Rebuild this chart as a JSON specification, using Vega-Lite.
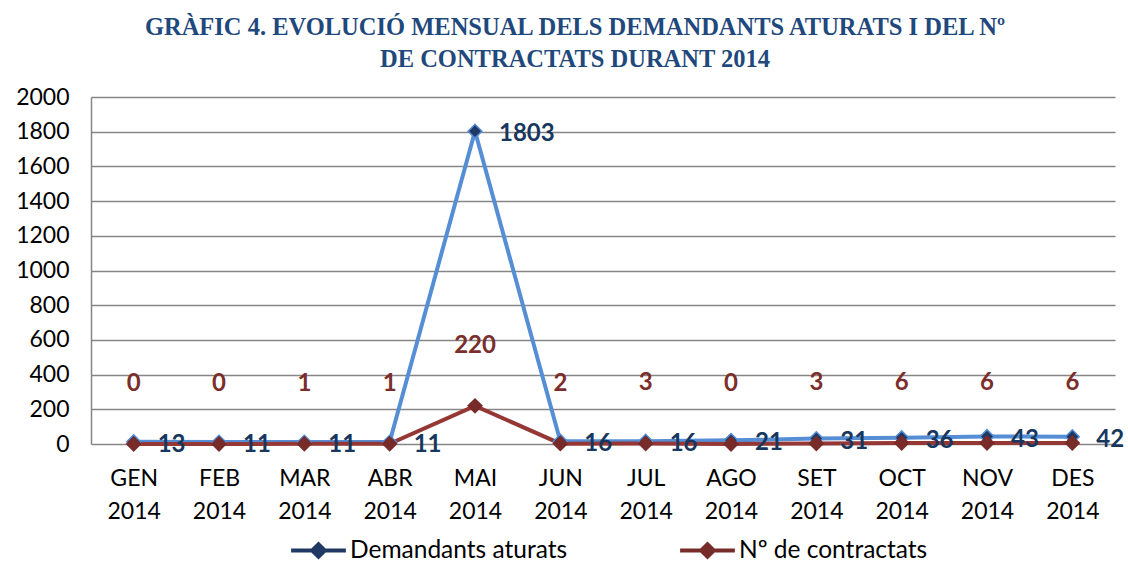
{
  "$schema": "https://vega.github.io/schema/vega-lite/v6.json",
  "width": 1024,
  "height": 347,
  "autosize": {"type": "none"},
  "padding": {"left": 91, "top": 97, "right": 13, "bottom": 118},
  "background": "white",
  "title": {
    "text": ["GRÀFIC 4. EVOLUCIÓ MENSUAL DELS DEMANDANTS ATURATS I DEL Nº", "DE CONTRACTATS DURANT 2014"],
    "font": "Liberation Serif",
    "fontSize": 24.5,
    "fontWeight": "bold",
    "color": "#1F497D",
    "lineHeight": 32,
    "anchor": "middle",
    "dx": -28,
    "offset": 14
  },
  "data": {
    "values": [
      {"mes": "GEN 2014", "serie": "Demandants aturats", "valor": 13},
      {"mes": "FEB 2014", "serie": "Demandants aturats", "valor": 11},
      {"mes": "MAR 2014", "serie": "Demandants aturats", "valor": 11},
      {"mes": "ABR 2014", "serie": "Demandants aturats", "valor": 11},
      {"mes": "MAI 2014", "serie": "Demandants aturats", "valor": 1803},
      {"mes": "JUN 2014", "serie": "Demandants aturats", "valor": 16},
      {"mes": "JUL 2014", "serie": "Demandants aturats", "valor": 16},
      {"mes": "AGO 2014", "serie": "Demandants aturats", "valor": 21},
      {"mes": "SET 2014", "serie": "Demandants aturats", "valor": 31},
      {"mes": "OCT 2014", "serie": "Demandants aturats", "valor": 36},
      {"mes": "NOV 2014", "serie": "Demandants aturats", "valor": 43},
      {"mes": "DES 2014", "serie": "Demandants aturats", "valor": 42},
      {"mes": "GEN 2014", "serie": "Nº de contractats", "valor": 0},
      {"mes": "FEB 2014", "serie": "Nº de contractats", "valor": 0},
      {"mes": "MAR 2014", "serie": "Nº de contractats", "valor": 1},
      {"mes": "ABR 2014", "serie": "Nº de contractats", "valor": 1},
      {"mes": "MAI 2014", "serie": "Nº de contractats", "valor": 220},
      {"mes": "JUN 2014", "serie": "Nº de contractats", "valor": 2},
      {"mes": "JUL 2014", "serie": "Nº de contractats", "valor": 3},
      {"mes": "AGO 2014", "serie": "Nº de contractats", "valor": 0},
      {"mes": "SET 2014", "serie": "Nº de contractats", "valor": 3},
      {"mes": "OCT 2014", "serie": "Nº de contractats", "valor": 6},
      {"mes": "NOV 2014", "serie": "Nº de contractats", "valor": 6},
      {"mes": "DES 2014", "serie": "Nº de contractats", "valor": 6}
    ]
  },
  "encoding": {
    "x": {
      "field": "mes",
      "type": "ordinal",
      "sort": null,
      "scale": {"type": "point", "padding": 0.5},
      "axis": {
        "title": null,
        "labelAngle": 0,
        "labelExpr": "split(datum.label, ' ')",
        "labelFont": "Lato",
        "labelFontSize": 23,
        "labelColor": "#000000",
        "labelLineHeight": 33,
        "labelPadding": 23,
        "ticks": false,
        "domain": false,
        "grid": false
      }
    },
    "y": {
      "field": "valor",
      "type": "quantitative",
      "scale": {"domain": [0, 2000], "nice": false},
      "axis": {
        "title": null,
        "format": "d",
        "values": [0, 200, 400, 600, 800, 1000, 1200, 1400, 1600, 1800, 2000],
        "labelFont": "Lato",
        "labelFontSize": 23,
        "labelColor": "#000000",
        "labelPadding": 22,
        "ticks": false,
        "domain": true,
        "domainColor": "#868686",
        "domainWidth": 1.5,
        "grid": true,
        "gridColor": "#868686",
        "gridWidth": 1.5
      }
    }
  },
  "layer": [
    {
      "mark": {"type": "line", "strokeWidth": 4},
      "encoding": {
        "color": {
          "field": "serie",
          "type": "nominal",
          "scale": {"domain": ["Demandants aturats", "Nº de contractats"], "range": ["#558ED5", "#953735"]},
          "legend": {
            "title": null,
            "orient": "none",
            "legendX": 200,
            "legendY": 426,
            "direction": "horizontal",
            "labelFont": "Lato",
            "labelFontSize": 24.5,
            "labelColor": "#000000",
            "labelLimit": 400,
            "symbolType": "M-1,-0.07L-0.26,-0.07L0,-0.33L0.26,-0.07L1,-0.07L1,0.07L0.26,0.07L0,0.33L-0.26,0.07L-1,0.07Z",
            "symbolSize": 3000,
            "symbolStrokeWidth": 0,
            "columnPadding": 112,
            "labelOffset": 4,
            "encode": {
              "symbols": {"update": {"fill": {"scale": "color", "field": "value"}, "opacity": {"value": 1}}}
            }
          }
        }
      }
    },
    {
      "mark": {"type": "point", "shape": "diamond", "filled": true, "size": 190, "strokeWidth": 1.5, "opacity": 1},
      "encoding": {
        "fill": {
          "field": "serie",
          "type": "nominal",
          "scale": {"domain": ["Demandants aturats", "Nº de contractats"], "range": ["#1F3864", "#772C2A"]},
          "legend": null
        },
        "stroke": {
          "field": "serie",
          "type": "nominal",
          "scale": {"domain": ["Demandants aturats", "Nº de contractats"], "range": ["#558ED5", "#772C2A"]},
          "legend": null
        }
      }
    },
    {
      "transform": [{"filter": "datum.serie === 'Demandants aturats'"}],
      "mark": {"type": "text", "align": "left", "baseline": "middle", "dx": 24, "dy": 3, "font": "Lato", "fontSize": 24, "fontWeight": "bold", "color": "#17375E"},
      "encoding": {"text": {"field": "valor", "type": "quantitative"}}
    },
    {
      "transform": [{"filter": "datum.serie === 'Nº de contractats'"}],
      "mark": {"type": "text", "align": "center", "baseline": "middle", "dy": -60, "font": "Lato", "fontSize": 24, "fontWeight": "bold", "color": "#7B2E2B"},
      "encoding": {"text": {"field": "valor", "type": "quantitative"}}
    }
  ],
  "config": {"view": {"stroke": null}}
}
